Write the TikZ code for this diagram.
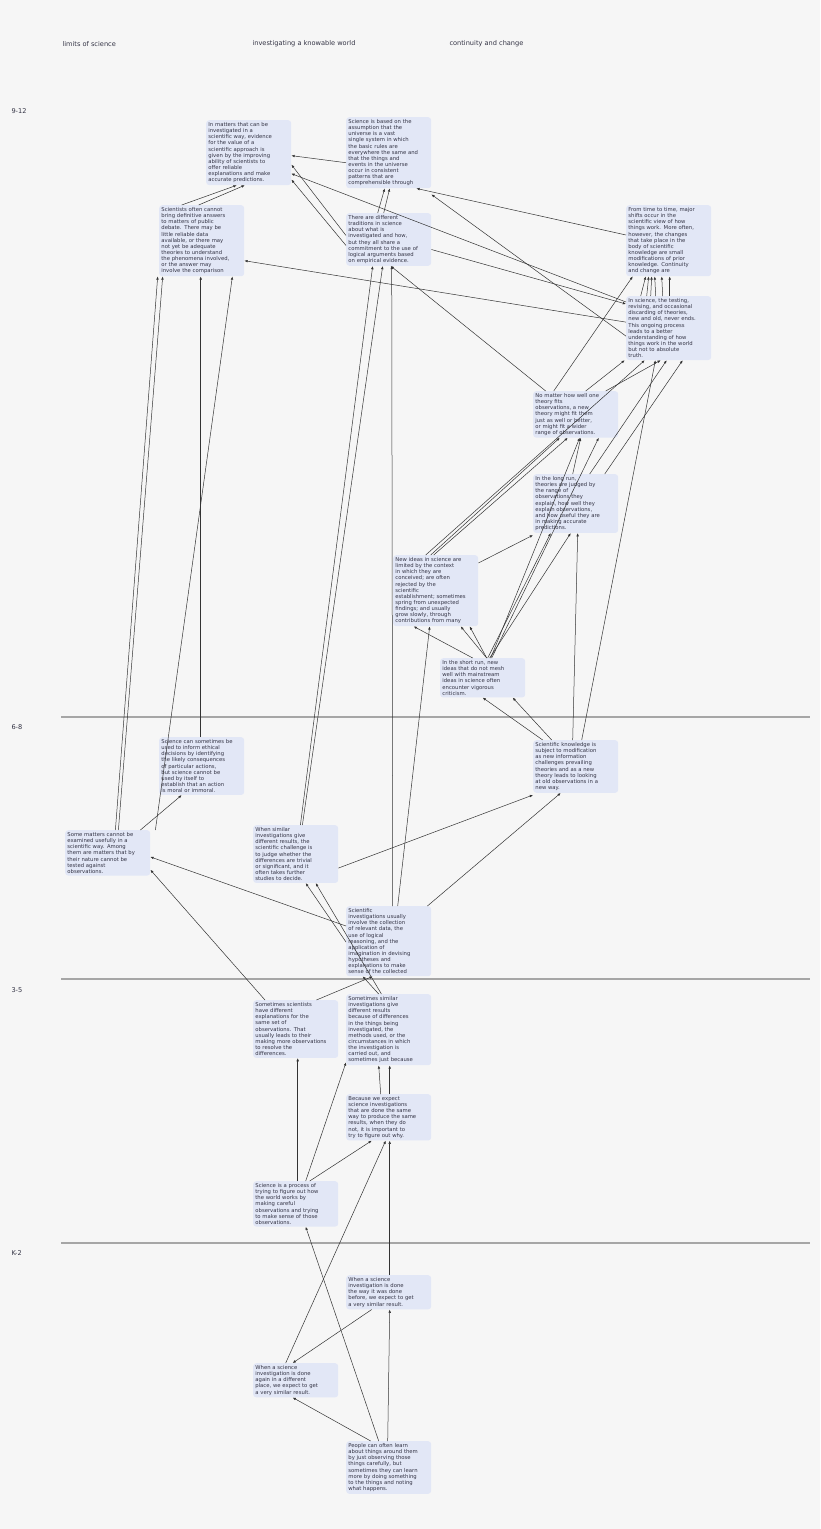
\documentclass[tikz,border=0pt]{standalone}
\usepackage{fontspec}
\setmainfont{DejaVu Sans}
\usetikzlibrary{arrows.meta}
\definecolor{bg}{HTML}{F6F6F6}
\definecolor{boxc}{HTML}{E2E7F6}
\definecolor{txt}{HTML}{333344}
\begin{document}
\begin{tikzpicture}[x=1pt,y=-1pt,
  box/.style={fill=boxc,rounded corners=3pt,anchor=north west,align=left,inner sep=2.2pt,text width=80.6pt,font=\fontsize{5.3}{6.15}\selectfont,text=txt},
  lab/.style={anchor=west,font=\fontsize{6.6}{8}\selectfont,text=txt},
  e/.style={-{Latex[length=3.2pt,width=2.6pt]},draw=black!80,line width=0.5pt},
  sep/.style={draw=black!35,line width=2pt}]
\fill[bg] (0,0) rectangle (820,1529);
\useasboundingbox (0,0) rectangle (820,1529);
\node[lab] (h1) at (59,44) {limits of science};
\node[lab] (h2) at (249,44) {investigating a knowable world};
\node[lab] (h3) at (446,44) {continuity and change};
\node[lab] (r1) at (8,111) {9-12};
\node[lab] (r2) at (8,727) {6-8};
\node[lab] (r3) at (8,990) {3-5};
\node[lab] (r4) at (8,1253) {K-2};
\draw[sep] (61,717) coordinate (l1a) -- (810,717) coordinate (l1b);
\draw[sep] (61,979) coordinate (l2a) -- (810,979) coordinate (l2b);
\draw[sep] (61,1243) coordinate (l3a) -- (810,1243) coordinate (l3b);

\node[box] (A) at (206,120) {In matters that can be\\investigated in a\\scientific way, evidence\\for the value of a\\scientific approach is\\given by the improving\\ability of scientists to\\offer reliable\\explanations and make\\accurate predictions.};
\node[box] (B) at (346,117) {Science is based on the\\assumption that the\\universe is a vast\\single system in which\\the basic rules are\\everywhere the same and\\that the things and\\events in the universe\\occur in consistent\\patterns that are\\comprehensible through};
\node[box] (C) at (159,205) {Scientists often cannot\\bring definitive answers\\to matters of public\\debate. There may be\\little reliable data\\available, or there may\\not yet be adequate\\theories to understand\\the phenomena involved,\\or the answer may\\involve the comparison};
\node[box] (D) at (346,213) {There are different\\traditions in science\\about what is\\investigated and how,\\but they all share a\\commitment to the use of\\logical arguments based\\on empirical evidence.};
\node[box] (E) at (626,205) {From time to time, major\\shifts occur in the\\scientific view of how\\things work. More often,\\however, the changes\\that take place in the\\body of scientific\\knowledge are small\\modifications of prior\\knowledge. Continuity\\and change are};
\node[box] (F) at (626,296) {In science, the testing,\\revising, and occasional\\discarding of theories,\\new and old, never ends.\\This ongoing process\\leads to a better\\understanding of how\\things work in the world\\but not to absolute\\truth.};
\node[box] (G) at (533,391) {No matter how well one\\theory fits\\observations, a new\\theory might fit them\\just as well or better,\\or might fit a wider\\range of observations.};
\node[box] (H) at (533,474) {In the long run,\\theories are judged by\\the range of\\observations they\\explain, how well they\\explain observations,\\and how useful they are\\in making accurate\\predictions.};
\node[box] (I) at (393,555) {New ideas in science are\\limited by the context\\in which they are\\conceived; are often\\rejected by the\\scientific\\establishment; sometimes\\spring from unexpected\\findings; and usually\\grow slowly, through\\contributions from many};
\node[box] (J) at (440,658) {In the short run, new\\ideas that do not mesh\\well with mainstream\\ideas in science often\\encounter vigorous\\criticism.};
\node[box] (K) at (159,737) {Science can sometimes be\\used to inform ethical\\decisions by identifying\\the likely consequences\\of particular actions,\\but science cannot be\\used by itself to\\establish that an action\\is moral or immoral.};
\node[box] (L) at (533,740) {Scientific knowledge is\\subject to modification\\as new information\\challenges prevailing\\theories and as a new\\theory leads to looking\\at old observations in a\\new way.};
\node[box] (M) at (65,830) {Some matters cannot be\\examined usefully in a\\scientific way. Among\\them are matters that by\\their nature cannot be\\tested against\\observations.};
\node[box] (N) at (253,825) {When similar\\investigations give\\different results, the\\scientific challenge is\\to judge whether the\\differences are trivial\\or significant, and it\\often takes further\\studies to decide.};
\node[box] (O) at (346,906) {Scientific\\investigations usually\\involve the collection\\of relevant data, the\\use of logical\\reasoning, and the\\application of\\imagination in devising\\hypotheses and\\explanations to make\\sense of the collected};
\node[box] (P) at (253,1000) {Sometimes scientists\\have different\\explanations for the\\same set of\\observations. That\\usually leads to their\\making more observations\\to resolve the\\differences.};
\node[box] (Q) at (346,994) {Sometimes similar\\investigations give\\different results\\because of differences\\in the things being\\investigated, the\\methods used, or the\\circumstances in which\\the investigation is\\carried out, and\\sometimes just because};
\node[box] (R) at (346,1094) {Because we expect\\science investigations\\that are done the same\\way to produce the same\\results, when they do\\not, it is important to\\try to figure out why.};
\node[box] (S) at (253,1181) {Science is a process of\\trying to figure out how\\the world works by\\making careful\\observations and trying\\to make sense of those\\observations.};
\node[box] (T) at (346,1275) {When a science\\investigation is done\\the way it was done\\before, we expect to get\\a very similar result.};
\node[box] (U) at (253,1363) {When a science\\investigation is done\\again in a different\\place, we expect to get\\a very similar result.};
\node[box] (V) at (346,1441) {People can often learn\\about things around them\\by just observing those\\things carefully, but\\sometimes they can learn\\more by doing something\\to the things and noting\\what happens.};

% 9-12 upper
\draw[e] ([xshift=-20pt]C.north) -- ([xshift=-12pt]A.south);
\draw[e] ([xshift=-3pt]C.north) -- ([xshift=-4pt]A.south);
\draw[e] ([yshift=-10pt]B.west) -- ([yshift=-3pt]A.east);
\draw[e] ([yshift=4pt]D.west) -- ([yshift=-12pt]A.east);
\draw[e] ([yshift=-6pt]F.north west) -- ([yshift=-21pt]A.east);
\draw[e] ([yshift=-6pt]D.west) -- ([yshift=-27pt]A.east);
\draw[e] ([xshift=-11pt]D.north) -- ([xshift=-4pt]B.south);
\draw[e] ([xshift=-5pt]D.north) -- ([xshift=1pt]B.south);
\draw[e] ([yshift=-8pt]F.west) -- ([yshift=-6pt]B.south east);
\draw[e] ([yshift=-30pt]E.north west) -- ([xshift=-15pt]B.south east);
\draw[e] ([yshift=6pt]F.west) -- ([yshift=-20pt]C.east);
\draw[e] ([yshift=-10pt]D.east) -- ([yshift=-8pt]F.north west);
\draw[e] ([xshift=-28pt]F.north) -- ([xshift=-23pt]E.south);
\draw[e] ([xshift=-22pt]F.north) -- ([xshift=-20pt]E.south);
\draw[e] ([xshift=-18pt]F.north) -- ([xshift=-17pt]E.south);
\draw[e] ([xshift=-13pt]F.north) -- ([xshift=-14pt]E.south);
\draw[e] ([xshift=-6pt]F.north) -- ([xshift=-7pt]E.south);
\draw[e] ([xshift=1pt]F.north) -- ([xshift=1pt]E.south);
\draw[e] ([xshift=-22pt]G.north) -- ([xshift=-36pt]E.south);
% middle
\draw[e] ([xshift=-30pt]G.north) -- ([xshift=2pt]D.south);
\draw[e] ([xshift=10pt]G.north) -- ([xshift=-44pt]F.south);
\draw[e] ([xshift=30pt]G.north) -- ([xshift=-8pt]F.south);
\draw[e] ([xshift=14pt]H.north) -- ([xshift=-2pt]F.south);
\draw[e] ([xshift=29pt]H.north) -- ([xshift=14pt]F.south);
\draw[e] ([xshift=-3pt]H.north) -- ([xshift=5pt]G.south);
\draw[e] ([xshift=-10pt]I.north) -- ([xshift=-24pt]F.south);
\draw[e] ([xshift=-5pt]I.north) -- ([xshift=-16pt]G.south);
\draw[e] ([xshift=-2pt]I.north) -- ([xshift=-8pt]G.south);
\draw[e] ([yshift=-8pt]I.north east) -- ([yshift=-2pt]H.south west);
\draw[e] ([xshift=-10pt]J.north) -- ([xshift=-22pt]I.south);
\draw[e] ([xshift=4pt]J.north) -- ([xshift=25pt]I.south);
\draw[e] ([xshift=4pt]J.north) -- ([xshift=34pt]I.south);
\draw[e] ([xshift=5pt]J.north) -- ([xshift=-25pt]H.south);
\draw[e] ([xshift=7pt]J.north) -- ([xshift=-5pt]H.south);
\draw[e] ([xshift=8pt]J.north) -- ([xshift=4pt]G.south);
\draw[e] ([xshift=9pt]J.north) -- ([xshift=23pt]G.south);
\draw[e] ([xshift=-3pt]L.north) -- ([xshift=2pt]H.south);
\draw[e] ([xshift=6pt]L.north) -- ([xshift=-56pt]F.south east);
\draw[e] ([xshift=-33pt]L.north) -- (J.south);
\draw[e] ([xshift=-24pt]L.north) -- ([xshift=30pt]J.south);
% left column
\draw[e] ([xshift=-35pt]M.north east) -- ([xshift=-44pt]C.south);
\draw[e] ([xshift=-32pt]M.north east) -- ([xshift=-39pt]C.south);
\draw[e] ([xshift=-1pt]K.north) -- ([xshift=-1pt]C.south);
\draw[e] ([xshift=-10pt]M.north east) -- ([xshift=-20pt]K.south);
\draw[e] ([xshift=5pt]M.north east) -- ([xshift=-12pt]C.south east);
% N and O
\draw[e] ([xshift=-38pt]N.north east) -- ([xshift=-16pt]D.south);
\draw[e] ([xshift=-36pt]N.north east) -- ([xshift=-6pt]D.south);
\draw[e] ([yshift=-14pt]N.east) -- ([yshift=-2pt]L.south west);
\draw[e] ([xshift=4pt]O.north) -- ([xshift=3pt]D.south);
\draw[e] ([xshift=9pt]O.north) -- ([xshift=-6pt]I.south);
\draw[e] ([xshift=-4pt]O.north east) -- ([xshift=-15pt]L.south);
\draw[e] ([yshift=-20pt]O.north west) -- ([yshift=-4pt]M.east);
\draw[e] ([yshift=-36pt]O.north west) -- ([xshift=10pt]N.south);
\draw[e] ([xshift=-50pt]Q.north east) -- ([xshift=20pt]N.south);
\draw[e] ([xshift=-22pt]P.north east) -- ([xshift=-16pt]O.south);
\draw[e] ([xshift=-10pt]Q.north) -- ([xshift=-26pt]O.south);
\draw[e] ([xshift=12pt]P.north west) -- ([yshift=6pt]M.south east);
% lower
\draw[e] ([xshift=-8pt]R.north) -- ([xshift=-10pt]Q.south);
\draw[e] ([xshift=1pt]R.north) -- ([xshift=1pt]Q.south);
\draw[e] ([xshift=2pt]S.north) -- ([xshift=2pt]P.south);
\draw[e] ([xshift=14pt]S.north) -- ([xshift=-17pt]R.south);
\draw[e] ([xshift=10pt]S.north) -- ([yshift=3pt]Q.south west);
\draw[e] ([xshift=-10pt]U.north) -- ([xshift=-3pt]R.south);
\draw[e] ([xshift=-17pt]T.south) -- ([xshift=-3pt]U.north);
\draw[e] ([xshift=1pt]T.north) -- ([xshift=1pt]R.south);
\draw[e] ([xshift=-1pt]V.north) -- ([xshift=1pt]T.south);
\draw[e] ([xshift=-10pt]V.north) -- ([xshift=10pt]S.south);
\draw[e] ([xshift=-18pt]V.north) -- ([xshift=-3pt]U.south);
\end{tikzpicture}
\end{document}
